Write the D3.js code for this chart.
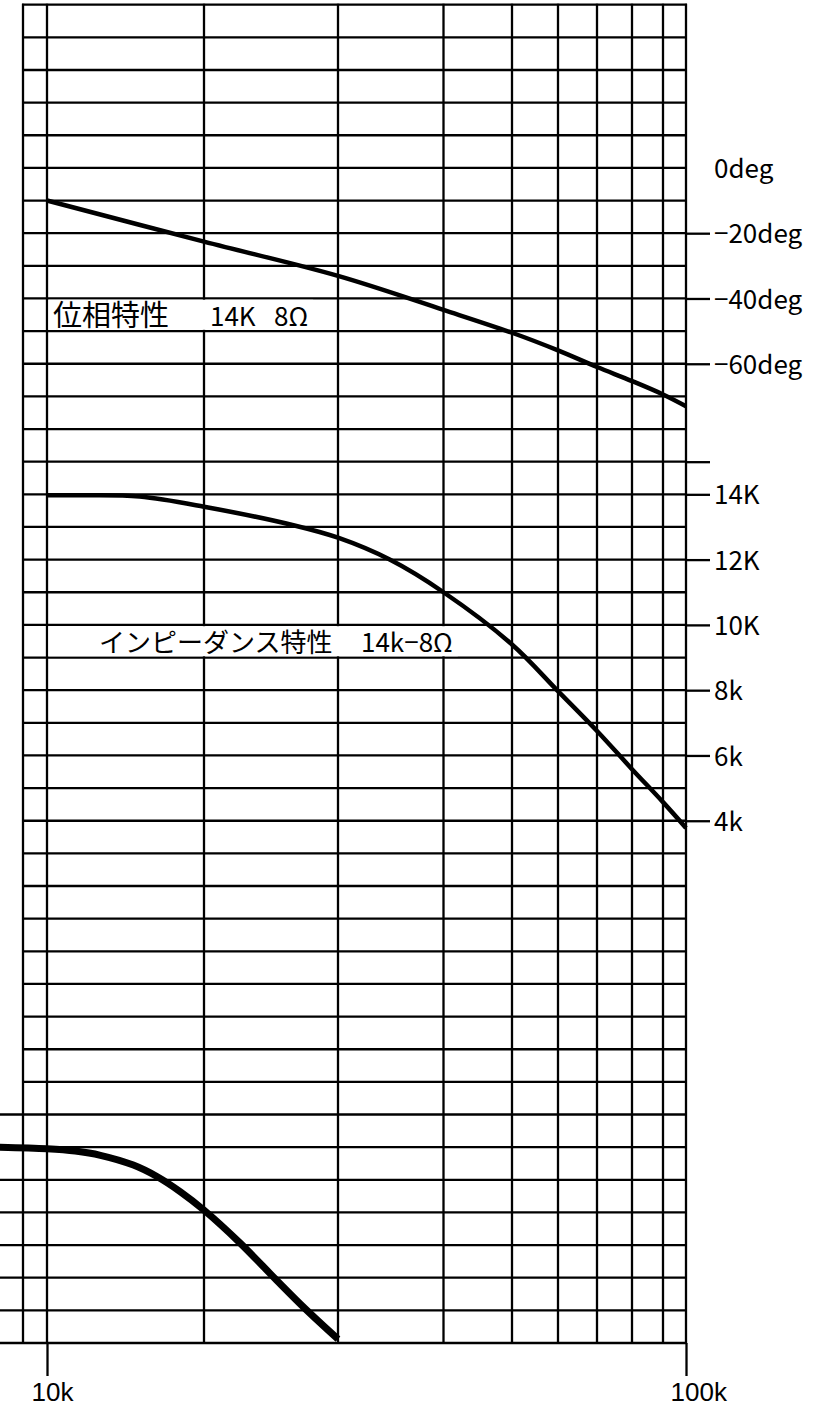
<html>
<head>
<meta charset="utf-8">
<style>
body
{
  margin:0;
  background:#fff;
}
svg text
{
  font-family:"Noto Sans CJK JP","Noto Sans",sans-serif;
  font-size:26px;
  fill:#000;
}
</style>
<script src="https://cdnjs.cloudflare.com/ajax/libs/d3/7.8.5/d3.min.js"></script>
</head>
<body>
<script>
// grid lines printed on the paper (kHz)
var gridFreqs = [9, 10, 20, 30, 40, 50, 60, 70, 80, 90, 100];
var freqTicks = [10, 100];
var freqLabels = ["10k", "100k"];

// phase curve: kHz / deg
var phaseFreq = [10, 20, 30, 40, 50, 60, 70, 80, 90, 100];
var phaseDeg = [-10, -22.6, -33.1, -43.5, -50.5, -55.9, -61.0, -65.3, -69.4, -73.0];
var phaseTicks = [0, -20, -40, -60];
var phaseLabels = ["0deg", "\u221220deg", "\u221240deg", "\u221260deg"];

// impedance curve: kHz / kohm
var impFreq = [10, 12.5, 15.9, 20, 26.6, 30, 34.9, 40, 50, 60, 70, 80, 90, 100];
var impK = [13.97, 13.97, 13.93, 13.62, 13.06, 12.67, 12.0, 11.0, 9.4, 7.97, 6.75, 5.58, 4.57, 3.78];
var impTicks = [15, 14, 12, 10, 8, 6, 4];
var impLabels = ["", "14K", "12K", "10K", "8k", "6k", "4k"];

// response curve at the bottom (no scale printed), kHz / dB
var respFreq = [7.9, 10, 11.8, 13.4, 15.5, 17.0, 18.5, 20, 22.7, 25.4, 27.6, 30];
var respDb = [0, -0.05, -0.12, -0.25, -0.55, -0.9, -1.37, -1.93, -2.94, -4.07, -4.97, -5.88];

var phaseTitle = ["位相特性", "14K", "8Ω"];
var impTitle = ["インピーダンス特性", "14k\u22128Ω"];

// ---- layout
var w = 834, h = 1407;
// the paper is hand ruled, not a true log scale
var paperX = [23, 47, 204, 338, 443.5, 512, 558, 597, 632, 663, 686];
var nRows = 41;

var svg = d3.select("body")
  .append("svg")
  .attr("width", w)
  .attr("height", h);

var x = d3.scaleLinear().domain(gridFreqs).range(paperX);
var yRow = d3.scaleLinear().domain([0, nRows]).range([4.7, 1343]);
var yDeg = d3.scaleLinear().domain([0, -10]).range([yRow(5), yRow(6)]);
var yImp = d3.scaleLinear().domain([14, 13]).range([yRow(15), yRow(16)]);
var yDb = d3.scaleLinear().domain([0, -1]).range([yRow(35), yRow(36)]);

var ink = "#000";

// grid
var grid = svg.append("g").attr("stroke", ink).attr("stroke-width", 2.3);

grid.selectAll("line.v")
  .data(gridFreqs)
  .enter().append("line")
  .attr("class", "v")
  .attr("x1", function(d){ return x(d); })
  .attr("x2", function(d){ return x(d); })
  .attr("y1", yRow(0) - 1)
  .attr("y2", yRow(nRows) + 1);

grid.selectAll("line.h")
  .data(d3.range(nRows + 1))
  .enter().append("line")
  .attr("class", "h")
  .attr("x1", function(d){ return d >= 34 ? x(8) : x(9) - 1; })
  .attr("x2", x(100) + 1)
  .attr("y1", function(d){ return yRow(d); })
  .attr("y2", function(d){ return yRow(d); });

// axes
function styleAxis(g)
{
  g.select(".domain").remove();
  g.selectAll(".tick line").attr("stroke", ink).attr("stroke-width", 2.3);
  g.selectAll(".tick text")
    .attr("fill", "#000")
    .style("font-size", "26px")
    .style("font-family", "\"Noto Sans CJK JP\",\"Noto Sans\",sans-serif");
}

var xAxis = svg.append("g")
  .attr("transform", "translate(0," + yRow(nRows) + ")")
  .call(d3.axisBottom(x).tickValues(freqTicks).tickSize(33)
    .tickFormat(function(d, i){ return freqLabels[i]; }));
styleAxis(xAxis);
xAxis.selectAll(".tick text")
  .style("font-family", "\"Liberation Sans\",sans-serif")
  .attr("text-anchor", "start")
  .attr("x", -16)
  .attr("y", 58)
  .attr("dy", 0);

var degAxis = svg.append("g")
  .attr("transform", "translate(" + x(100) + ",0)")
  .call(d3.axisRight(yDeg).tickValues(phaseTicks).tickSize(24)
    .tickFormat(function(d, i){ return phaseLabels[i]; }));
styleAxis(degAxis);
degAxis.selectAll(".tick text").attr("x", 28).attr("dy", "0.37em");
degAxis.selectAll(".tick").filter(function(d){ return d === 0; }).select("line").remove();

var impAxis = svg.append("g")
  .attr("transform", "translate(" + x(100) + ",0)")
  .call(d3.axisRight(yImp).tickValues(impTicks).tickSize(24)
    .tickFormat(function(d, i){ return impLabels[i]; }));
styleAxis(impAxis);
impAxis.selectAll(".tick text").attr("x", 28).attr("dy", "0.37em");

// curves
function curve(fs, vs, ys, width)
{
  var pts = fs.map(function(f, i){ return [f, vs[i]]; });
  var line = d3.line()
    .x(function(d){ return x(d[0]); })
    .y(function(d){ return ys(d[1]); })
    .curve(d3.curveCatmullRom.alpha(0.5));
  svg.append("path")
    .datum(pts)
    .attr("d", line)
    .attr("fill", "none")
    .attr("stroke", "#000")
    .attr("stroke-width", width)
    .attr("stroke-linejoin", "round");
}

curve(phaseFreq, phaseDeg, yDeg, 4.5);
curve(impFreq, impK, yImp, 4.5);
curve(respFreq, respDb, yDb, 7);

// labels sit on white strips that hide the grid behind them
function label(parts, xs, sizes, row)
{
  var bg = svg.append("rect").attr("fill", "#fff");
  var t = svg.append("text")
    .attr("y", yRow(row) - 5.5)
    .style("white-space", "pre");
  parts.forEach(function(p, i){
    t.append("tspan")
      .attr("x", x(10) + xs[i])
      .style("font-size", sizes[i] + "px")
      .text(p);
  });
  var b = t.node().getBBox();
  bg.attr("x", x(10) + 1.5)
    .attr("y", yRow(row - 1) + 1.3)
    .attr("width", b.x + b.width + 5 - x(10) - 1.5)
    .attr("height", yRow(row) - yRow(row - 1) - 2.6);
}

label(phaseTitle, [6, 163, 227], [29, 26, 26], 10);
label(impTitle, [52, 314], [26, 26], 20);
</script>
</body>
</html>
